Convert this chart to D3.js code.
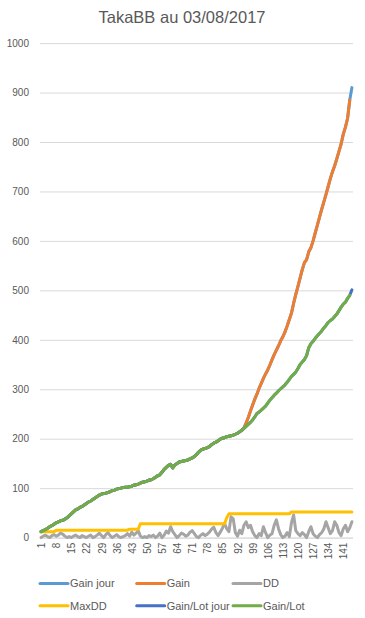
<!DOCTYPE html>
<html><head><meta charset="utf-8">
<script src="https://cdn.jsdelivr.net/npm/d3@7"></script>
<style>
html,body{margin:0;padding:0;background:#fff;}
svg{display:block;font-family:"Liberation Sans",Arial,sans-serif;}
</style></head>
<body>
<div id="chart"></div>
<script>
const title = "TakaBB au 03/08/2017";
const categories = d3.range(1, 146);
const xTicks = [1,8,15,22,29,36,43,50,57,64,71,78,85,92,99,106,113,120,127,134,141];
const yTicks = [0,100,200,300,400,500,600,700,800,900,1000];

const gainLot = [12,14,16,19,22,24,27,30,32,34,
35,37,40,44,48,52,56,58,61,63,
66,69,72,74,77,80,83,86,88,89,
90,91,93,95,96,98,99,100,101,102,
102,103,104,106,107,108,110,112,113,114,
116,117,119,122,125,127,132,138,142,146,
148,141,147,150,153,154,155,156,157,159,
161,164,168,173,177,179,180,182,184,188,
191,193,196,199,201,202,204,205,206,207,
209,211,214,217,221,225,229,233,238,244,
251,254,258,262,266,272,278,283,288,292,
297,301,305,309,314,320,326,330,335,342,
350,355,360,368,384,392,397,403,408,413,
418,424,429,435,439,442,447,452,459,466,
472,476,484,490];
const gainLotJour = [12,14,16,19,22,24,27,30,32,34,
35,37,40,44,48,52,56,58,61,63,
66,69,72,74,77,80,83,86,88,89,
90,91,93,95,96,98,99,100,101,102,
102,103,104,106,107,108,110,112,113,114,
116,117,119,122,125,127,132,138,142,146,
148,141,147,150,153,154,155,156,157,159,
161,164,168,173,177,179,180,182,184,188,
191,193,196,199,201,202,204,205,206,207,
209,211,214,217,221,225,229,233,238,244,
251,254,258,262,266,272,278,283,288,292,
297,301,305,309,314,320,326,330,335,342,
350,355,360,368,384,392,397,403,408,413,
418,424,429,435,439,442,447,452,459,466,
472,476,484,490,501];
const gain = [12,14,16,19,22,24,27,30,32,34,
35,37,40,44,48,52,56,58,61,63,
66,69,72,74,77,80,83,86,88,89,
90,91,93,95,96,98,99,100,101,102,
102,103,104,106,107,108,110,112,113,114,
116,117,119,122,125,127,132,138,142,146,
148,141,147,150,153,154,155,156,157,159,
161,164,168,173,177,179,180,182,184,188,
191,193,196,199,201,202,204,205,206,207,
209,211,214,217,222,232,243,256,268,280,
290,302,312,322,331,339,349,360,370,379,
388,398,406,416,428,441,454,474,492,508,
525,542,556,562,578,586,600,616,632,648,
664,679,694,710,726,740,752,766,781,796,
816,830,848,885];
const gainJour = [12,14,16,19,22,24,27,30,32,34,
35,37,40,44,48,52,56,58,61,63,
66,69,72,74,77,80,83,86,88,89,
90,91,93,95,96,98,99,100,101,102,
102,103,104,106,107,108,110,112,113,114,
116,117,119,122,125,127,132,138,142,146,
148,141,147,150,153,154,155,156,157,159,
161,164,168,173,177,179,180,182,184,188,
191,193,196,199,201,202,204,205,206,207,
209,211,214,217,222,232,243,256,268,280,
290,302,312,322,331,339,349,360,370,379,
388,398,406,416,428,441,454,474,492,508,
525,542,556,562,578,586,600,616,632,648,
664,679,694,710,726,740,752,766,781,796,
816,830,848,885,910];
const dd = [0,3,5,2,0,4,6,3,5,9,
7,3,0,2,0,3,5,2,0,4,
2,0,3,5,0,2,5,9,4,0,
6,10,4,0,3,6,2,0,2,4,
8,3,11,5,9,14,3,0,2,0,
4,2,5,0,3,9,0,5,13,9,
22,12,6,0,4,9,7,3,5,11,
14,8,2,0,5,8,4,7,11,17,
21,10,4,11,19,29,18,12,42,38,
10,3,15,8,25,32,20,25,12,4,
0,8,4,22,10,0,5,8,25,36,
18,6,0,3,10,2,30,46,14,8,
4,10,6,0,12,22,8,3,0,6,
10,18,32,20,8,14,32,25,10,4,
18,25,12,20,32];
const maxDD = [12,12,12,12,12,12,12,15,15,15,
15,15,15,15,15,15,15,15,15,15,
15,15,15,15,15,15,15,15,15,15,
15,15,15,15,15,15,15,15,15,15,
15,17,17,17,17,17,28,28,28,28,
28,28,28,28,28,28,28,28,28,28,
28,28,28,28,28,28,28,28,28,28,
28,28,28,28,28,28,28,28,28,28,
28,28,28,28,28,28,40,48,48,48,
48,48,48,48,48,48,48,48,48,48,
48,48,48,48,48,48,48,48,48,48,
48,48,48,48,48,48,52,52,52,52,
52,52,52,52,52,52,52,52,52,52,
52,52,52,52,52,52,52,52,52,52,
52,52,52,52,52];

const seriesNames = ["Gain jour","Gain","DD","MaxDD","Gain/Lot jour","Gain/Lot"];
const seriesColors = ["#5B9BD5","#ED7D31","#A5A5A5","#FFC000","#4472C4","#70AD47"];
const seriesValues = [gainJour, gain, dd, maxDD, gainLotJour, gainLot];

const W = 365, H = 618;
const mLeft = 40, mRight = 353, mTop = 43.1, mBottom = 537.6;

const svg = d3.select("#chart").append("svg").attr("width", W).attr("height", H);

const x = d3.scalePoint().domain(categories).range([mLeft, mRight]).padding(0.5);
const y = d3.scaleLinear().domain([0, 1000]).range([mBottom, mTop]);

svg.append("text").attr("x", 182).attr("y", 22.5).attr("text-anchor", "middle")
  .attr("font-size", 16.5).attr("fill", "#595959").text(title);

// y axis + gridlines
const gy = svg.append("g").attr("transform", `translate(${mLeft},0)`)
  .call(d3.axisLeft(y).tickValues(yTicks).tickSize(-(mRight - mLeft)).tickPadding(11).tickFormat(d3.format("d")));
gy.select(".domain").remove();
gy.selectAll(".tick line").attr("stroke", "#D9D9D9").attr("stroke-width", 1);
gy.selectAll(".tick text").attr("fill", "#595959").attr("font-size", 10).attr("font-family", "Liberation Sans, Arial, sans-serif");

// x axis
const gx = svg.append("g").attr("transform", `translate(0,${mBottom})`)
  .call(d3.axisBottom(x).tickValues(xTicks).tickSize(0).tickPadding(0));
gx.select(".domain").attr("stroke", "#D9D9D9").attr("d", `M${mLeft},0.5H${mRight}`);
gx.selectAll(".tick text")
  .attr("fill", "#595959").attr("font-size", 10).attr("font-family", "Liberation Sans, Arial, sans-serif")
  .attr("text-anchor", "end").attr("transform", "translate(0,5) rotate(-90)")
  .attr("x", 0).attr("y", 0).attr("dy", "0.35em");

// lines
const plot = svg.append("g");
seriesValues.forEach((vals, k) => {
  const line = d3.line().x((d, i) => x(categories[i])).y(d => y(d));
  plot.append("path").datum(vals).attr("d", line)
    .attr("fill", "none").attr("stroke", seriesColors[k]).attr("stroke-width", 3)
    .attr("stroke-linejoin", "round").attr("stroke-linecap", "round");
});

// legend
const legX = [40, 136.7, 233], legY = [583.5, 605.7];
seriesNames.forEach((name, k) => {
  const lx = legX[k % 3], ly = legY[Math.floor(k / 3)];
  const g = svg.append("g");
  g.append("line").attr("x1", lx).attr("x2", lx + 28).attr("y1", ly).attr("y2", ly)
    .attr("stroke", seriesColors[k]).attr("stroke-width", 3).attr("stroke-linecap", "round");
  g.append("text").attr("x", lx + 30).attr("y", ly).attr("dy", "0.35em")
    .attr("font-size", 11).attr("fill", "#595959").text(name);
});
</script>
</body></html>
